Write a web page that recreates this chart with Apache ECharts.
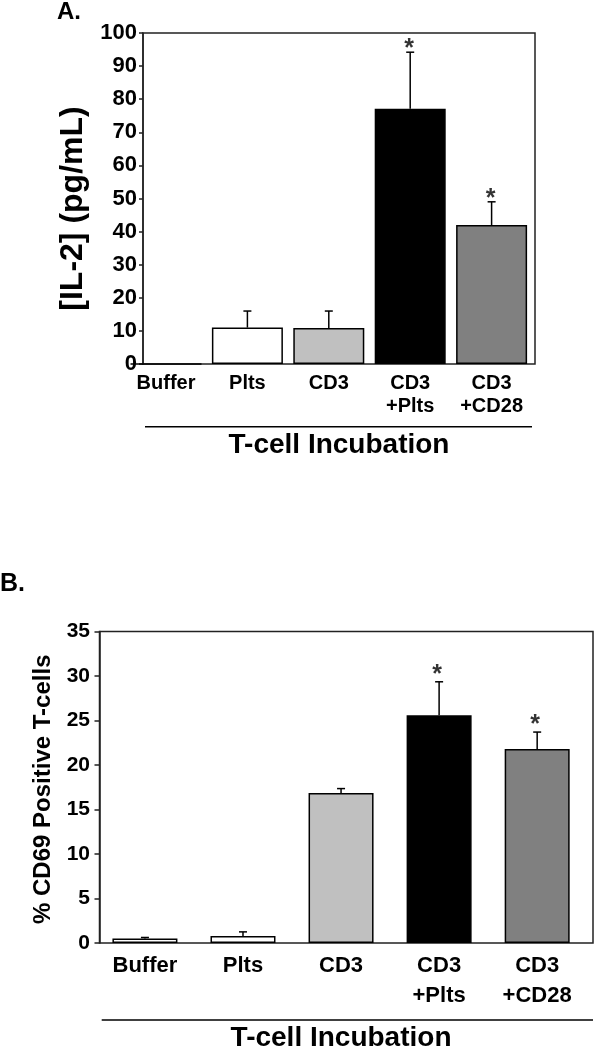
<!DOCTYPE html>
<html>
<head>
<meta charset="utf-8">
<script src="https://cdn.jsdelivr.net/npm/echarts@6/dist/echarts.min.js"></script>
<style>html,body{margin:0;padding:0;background:#fff;}#c{width:595px;height:1050px;}</style>
</head>
<body>
<div id="c"></div>
<script>
// ---- data ----
const categories = ['Buffer', 'Plts', 'CD3', 'CD3\n+Plts', 'CD3\n+CD28'];
const il2Mean = [0, 11.0, 10.9, 77.1, 42.0];
const il2Err = [0, 5.0, 5.1, 17.1, 7.0];
const cd69Mean = [0.5, 0.8, 16.85, 25.6, 21.8];
const cd69Err = [0.12, 0.45, 0.5, 3.75, 1.9];
const significant = [false, false, false, true, true];
const yTicksA = [0, 100, 10];
const yTicksB = [0, 35, 5];
const barColors = ['#ffffff', '#ffffff', '#c0c0c0', '#000000', '#808080'];

const FONT = '"Liberation Sans", Arial, Helvetica, sans-serif';
const chart = echarts.init(document.getElementById('c'), null, {renderer: 'canvas'});

function errRender(params, api) {
  const i = api.value(0), m = api.value(1), e = api.value(2);
  if (!e) return null;
  const p0 = api.coord([i, m]);
  const p1 = api.coord([i, m + e]);
  const st = {stroke: '#000', lineWidth: 1.5};
  return {type: 'group', children: [
    {type: 'line', shape: {x1: p0[0], y1: p0[1], x2: p1[0], y2: p1[1]}, style: st},
    {type: 'line', shape: {x1: p1[0] - 4, y1: p1[1], x2: p1[0] + 4, y2: p1[1]}, style: st}
  ]};
}

function barData(mean) {
  return mean.map((v, i) => ({value: v, itemStyle: {color: barColors[i]}}));
}
function errData(mean, err) {
  return mean.map((v, i) => [i, v, err[i]]);
}
function starData(mean, err) {
  const out = [];
  mean.forEach((v, i) => { if (significant[i]) out.push([i, v + err[i]]); });
  return out;
}

const frameGrid = {show: true, borderColor: '#222', borderWidth: 1.5, backgroundColor: 'transparent', outerBoundsMode: 'none', containLabel: false};
const plainGrid = {outerBoundsMode: 'none', containLabel: false};
const boldText = {fontFamily: FONT, fontWeight: 'bold', color: '#000'};

const option = {
  animation: false,
  backgroundColor: '#fff',
  title: [
    {text: 'A.', left: 57, top: 0, padding: 0, textStyle: Object.assign({fontSize: 24}, boldText)},
    {text: 'B.', left: 0, top: 572, padding: 0, textStyle: Object.assign({fontSize: 25}, boldText)}
  ],
  grid: [
    Object.assign({left: 143, top: 33, width: 392, height: 331}, frameGrid),
    Object.assign({left: 125.3, top: 33, width: 407, height: 331}, plainGrid),
    Object.assign({left: 99.5, top: 631.5, width: 493.5, height: 311.5}, frameGrid),
    Object.assign({left: 95.9, top: 631.5, width: 490.3, height: 311.5}, plainGrid)
  ],
  xAxis: [
    {gridIndex: 0, type: 'category', data: categories, axisLine: {show: false}, axisTick: {show: false}, axisLabel: {show: false},
     name: 'T-cell Incubation', nameLocation: 'middle', nameGap: 67,
     nameTextStyle: Object.assign({fontSize: 28}, boldText)},
    {gridIndex: 1, type: 'category', data: categories, axisLine: {show: false}, axisTick: {show: false},
     axisLabel: Object.assign({interval: 0, margin: 8.5, fontSize: 20, lineHeight: 22.7}, boldText)},
    {gridIndex: 2, type: 'category', data: categories, axisLine: {show: false}, axisTick: {show: false}, axisLabel: {show: false}},
    {gridIndex: 3, type: 'category', data: categories, axisLine: {show: false}, axisTick: {show: false},
     axisLabel: Object.assign({interval: 0, margin: 8, fontSize: 22, lineHeight: 30}, boldText),
     name: 'T-cell Incubation', nameLocation: 'middle', nameGap: 81,
     nameTextStyle: Object.assign({fontSize: 28}, boldText)}
  ],
  yAxis: [
    {gridIndex: 0, type: 'value', min: yTicksA[0], max: yTicksA[1], interval: yTicksA[2],
     axisLine: {show: true, lineStyle: {color: '#222', width: 1.5}},
     axisTick: {show: true, inside: false, length: 4, lineStyle: {color: '#222', width: 1.5}},
     splitLine: {show: false},
     axisLabel: Object.assign({margin: 6, fontSize: 22}, boldText),
     name: '[IL-2] (pg/mL)', nameLocation: 'middle', nameGap: 50,
     nameTextStyle: Object.assign({fontSize: 32, padding: [0, 20, 0, 0]}, boldText)},
    {gridIndex: 1, type: 'value', min: yTicksA[0], max: yTicksA[1], interval: yTicksA[2], show: false, splitLine: {show: false}},
    {gridIndex: 2, type: 'value', min: yTicksB[0], max: yTicksB[1], interval: yTicksB[2],
     axisLine: {show: true, lineStyle: {color: '#222', width: 1.5}},
     axisTick: {show: true, inside: false, length: 5, lineStyle: {color: '#222', width: 1.5}},
     splitLine: {show: false},
     axisLabel: Object.assign({margin: 9.5, fontSize: 21}, boldText),
     name: '% CD69 Positive T-cells', nameLocation: 'middle', nameGap: 43,
     nameTextStyle: Object.assign({fontSize: 24, padding: [0, 4, 0, 0]}, boldText)},
    {gridIndex: 3, type: 'value', min: yTicksB[0], max: yTicksB[1], interval: yTicksB[2], show: false, splitLine: {show: false}}
  ],
  graphic: [
    {type: 'line', shape: {x1: 145, y1: 426.7, x2: 532, y2: 426.7}, style: {stroke: '#000', lineWidth: 1.5}},
    {type: 'line', shape: {x1: 101.7, y1: 1020, x2: 593, y2: 1020}, style: {stroke: '#000', lineWidth: 1.5}}
  ],
  series: [
    {type: 'bar', xAxisIndex: 1, yAxisIndex: 1, data: barData(il2Mean), barWidth: 71,
     itemStyle: {borderColor: '#000', borderWidth: 1.5}, z: 2},
    {type: 'custom', xAxisIndex: 1, yAxisIndex: 1, data: errData(il2Mean, il2Err), renderItem: errRender,
     encode: {x: 0, y: 1}, z: 3},
    {type: 'scatter', xAxisIndex: 1, yAxisIndex: 1, data: starData(il2Mean, il2Err), symbolSize: 1,
     itemStyle: {color: 'rgba(0,0,0,0)'},
     label: Object.assign({show: true, formatter: '*', position: 'inside', fontSize: 25, offset: [-1, -3]}, boldText), z: 4},
    {type: 'bar', xAxisIndex: 3, yAxisIndex: 3, data: barData(cd69Mean), barWidth: 65,
     itemStyle: {borderColor: '#000', borderWidth: 1.5}, z: 2},
    {type: 'custom', xAxisIndex: 3, yAxisIndex: 3, data: errData(cd69Mean, cd69Err), renderItem: errRender,
     encode: {x: 0, y: 1}, z: 3},
    {type: 'scatter', xAxisIndex: 3, yAxisIndex: 3, data: starData(cd69Mean, cd69Err), symbolSize: 1,
     itemStyle: {color: 'rgba(0,0,0,0)'},
     label: Object.assign({show: true, formatter: '*', position: 'inside', fontSize: 25, offset: [-2, -7]}, boldText), z: 4}
  ]
};
chart.setOption(option);
</script>
</body>
</html>
